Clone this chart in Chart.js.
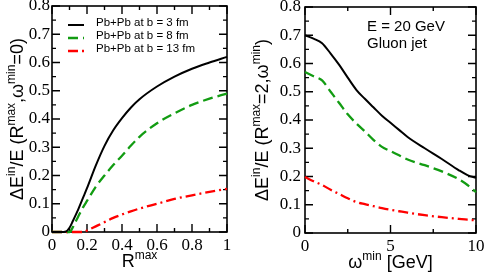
<!DOCTYPE html>
<html>
<head>
<meta charset="utf-8">
<script src="https://cdn.jsdelivr.net/npm/chart.js@4.4.0/dist/chart.umd.min.js"></script>
<style>
  html, body { margin: 0; padding: 0; background: #fff; }
  .wrap { display: flex; width: 485px; height: 277px; }
  canvas { display: block; }
</style>
</head>
<body>
<div class="wrap">
  <canvas id="leftChart" width="243" height="277"></canvas>
  <canvas id="rightChart" width="242" height="277"></canvas>
</div>
<script>
// left panel: energy loss fraction vs R^max (omega^min = 0)
const rmax = [0, 0.05, 0.08, 0.1, 0.12, 0.15, 0.18, 0.2, 0.25, 0.3, 0.35, 0.4, 0.45, 0.5, 0.6, 0.7, 0.8, 0.9, 1.0];
const lossB3 = [0, 0, 0.002, 0.015, 0.04, 0.08, 0.125, 0.155, 0.235, 0.305, 0.36, 0.403, 0.44, 0.47, 0.515, 0.55, 0.578, 0.6, 0.62];
const lossB8 = [0, 0, 0, 0, 0.018, 0.055, 0.09, 0.11, 0.16, 0.2, 0.237, 0.27, 0.305, 0.337, 0.385, 0.42, 0.45, 0.472, 0.49];
const lossB13 = [0, 0, 0, 0, 0, 0, 0, 0.005, 0.02, 0.035, 0.05, 0.062, 0.073, 0.083, 0.1, 0.117, 0.13, 0.142, 0.153];

// right panel: energy loss fraction vs omega^min (R^max = 2), E = 20 GeV gluon jet
const omegaMin = [0, 0.5, 1, 1.5, 2, 2.5, 3, 3.5, 4, 4.5, 5, 5.5, 6, 7, 8, 9, 9.5, 10];
const gluonB3 = [0.70, 0.688, 0.672, 0.635, 0.595, 0.55, 0.507, 0.475, 0.445, 0.415, 0.39, 0.365, 0.34, 0.3, 0.262, 0.222, 0.205, 0.195];
const gluonB8 = [0.57, 0.555, 0.54, 0.5, 0.46, 0.42, 0.388, 0.36, 0.33, 0.305, 0.29, 0.275, 0.26, 0.24, 0.218, 0.19, 0.17, 0.145];
const gluonB13 = [0.198, 0.183, 0.17, 0.153, 0.138, 0.123, 0.11, 0.102, 0.095, 0.088, 0.082, 0.077, 0.072, 0.063, 0.056, 0.05, 0.047, 0.045];

const seriesLabels = ["Pb+Pb at b = 3 fm", "Pb+Pb at b = 8 fm", "Pb+Pb at b = 13 fm"];

const SANS = "'Liberation Sans', Arial, sans-serif";
const SERIF = "'Liberation Serif', 'Times New Roman', serif";

const styles = [
  { color: "#000000", width: 2, dash: [] },
  { color: "#129c12", width: 2.3, dash: [10, 5] },
  { color: "#ff0000", width: 2.3, dash: [10, 4, 2, 4] },
];

// text with superscripts, centred on x
function drawRich(ctx, parts, x, y) {
  let w = 0;
  parts.forEach(([t, sup]) => {
    ctx.font = (sup ? "12px " : "18px ") + SANS;
    w += ctx.measureText(t).width;
  });
  let cx = x - w / 2;
  ctx.textAlign = "left";
  ctx.textBaseline = "alphabetic";
  parts.forEach(([t, sup]) => {
    ctx.font = (sup ? "12px " : "18px ") + SANS;
    ctx.fillText(t, cx, sup ? y - 8 : y);
    cx += ctx.measureText(t).width;
  });
}

const panelPlugin = {
  id: "panel",
  beforeDatasetsDraw(chart, args, opts) {
    const { ctx, chartArea: a, scales } = chart;
    ctx.save();
    ctx.strokeStyle = "#000";
    ctx.lineWidth = 1.6;
    ctx.strokeRect(a.left, a.top, a.right - a.left, a.bottom - a.top);
    ctx.lineWidth = 1.4;
    ctx.beginPath();
    const xs = scales.x, ys = scales.y;
    for (let v = xs.min; v <= xs.max + 1e-9; v += opts.xMinor) {
      const px = xs.getPixelForValue(v);
      const major = Math.abs(v / opts.xMajor - Math.round(v / opts.xMajor)) < 1e-6;
      const len = major ? 8 : 4;
      ctx.moveTo(px, a.bottom); ctx.lineTo(px, a.bottom - len);
      ctx.moveTo(px, a.top); ctx.lineTo(px, a.top + len);
    }
    for (let v = ys.min; v <= ys.max + 1e-9; v += opts.yMinor) {
      const py = ys.getPixelForValue(v);
      const major = Math.abs(v / opts.yMajor - Math.round(v / opts.yMajor)) < 1e-6;
      const len = major ? 8 : 4;
      ctx.moveTo(a.left, py); ctx.lineTo(a.left + len, py);
      ctx.moveTo(a.right, py); ctx.lineTo(a.right - len, py);
    }
    ctx.stroke();
    ctx.restore();
  },
  afterDraw(chart, args, opts) {
    const { ctx, chartArea: a } = chart;
    ctx.save();
    ctx.fillStyle = "#000";
    // axis titles
    drawRich(ctx, opts.xTitle, (a.left + a.right) / 2, opts.xTitleY);
    ctx.save();
    ctx.translate(opts.yTitleX, (a.top + a.bottom) / 2);
    ctx.rotate(-Math.PI / 2);
    drawRich(ctx, opts.yTitle, 0, 0);
    ctx.restore();

    if (opts.legend) {
      const L = opts.legend;
      ctx.font = "11.5px " + SANS;
      ctx.textBaseline = "middle";
      ctx.textAlign = "left";
      chart.data.datasets.forEach((ds, i) => {
        const y = L.y + i * L.dy;
        ctx.save();
        ctx.strokeStyle = ds.borderColor;
        ctx.lineWidth = ds.borderWidth;
        ctx.setLineDash(ds.borderDash || []);
        ctx.beginPath();
        ctx.moveTo(L.x, y);
        ctx.lineTo(L.x + L.len, y);
        ctx.stroke();
        ctx.restore();
        ctx.fillText(ds.label, L.textX, y - 2);
      });
    }
    if (opts.notes) {
      ctx.font = "15px " + SANS;
      ctx.textBaseline = "middle";
      ctx.textAlign = "left";
      opts.notes.lines.forEach((t, i) => ctx.fillText(t, opts.notes.x, opts.notes.y + i * opts.notes.dy));
    }
    ctx.restore();
  },
};

function fmtTick(v) {
  if (Math.abs(v - Math.round(v)) < 1e-9) return String(Math.round(v));
  return v.toFixed(1);
}

function makePanel(id, cfg) {
  return new Chart(document.getElementById(id), {
    type: "line",
    data: {
      datasets: cfg.values.map((vals, i) => ({
        label: seriesLabels[i],
        data: cfg.xs.map((x, j) => ({ x: x, y: vals[j] })),
        borderColor: styles[i].color,
        borderWidth: styles[i].width,
        borderDash: styles[i].dash,
        pointRadius: 0,
        fill: false,
        cubicInterpolationMode: "monotone",
        clip: false,
      })),
    },
    options: {
      responsive: false,
      animation: false,
      events: [],
      layout: { padding: cfg.padding },
      plugins: {
        legend: { display: false },
        tooltip: { enabled: false },
        panel: cfg.panel,
      },
      scales: {
        x: {
          type: "linear",
          min: cfg.xMin,
          max: cfg.xMax,
          grid: { display: false, drawTicks: false },
          border: { display: false },
          ticks: {
            stepSize: cfg.xStep,
            autoSkip: false,
            maxRotation: 0,
            padding: 3,
            color: "#000",
            font: { family: SERIF, size: 17 },
            callback: fmtTick,
          },
          afterFit(s) { s.height = cfg.xAxisHeight; s.paddingLeft = 0; s.paddingRight = 0; },
        },
        y: {
          min: 0,
          max: 0.8,
          grid: { display: false, drawTicks: false },
          border: { display: false },
          ticks: {
            stepSize: 0.1,
            autoSkip: false,
            padding: cfg.yTickPad,
            color: "#000",
            font: { family: SERIF, size: 17 },
            callback: fmtTick,
          },
          afterFit(s) { s.width = cfg.yAxisWidth; s.paddingTop = 0; s.paddingBottom = 0; },
        },
      },
    },
    plugins: [panelPlugin],
  });
}

makePanel("leftChart", {
  xs: rmax,
  values: [lossB3, lossB8, lossB13],
  xMin: 0, xMax: 1, xStep: 0.2,
  padding: { top: 6, right: 16, left: 0, bottom: 0 },
  xAxisHeight: 45,
  yAxisWidth: 52,
  yTickPad: 2,
  panel: {
    xMinor: 0.1, xMajor: 0.2, yMinor: 0.05, yMajor: 0.1,
    xTitle: [["R"], ["max", true]],
    xTitleY: 267,
    yTitle: [["\u0394E"], ["in", true], ["/E (R"], ["max", true], [",\u03c9"], ["min", true], ["=0)"]],
    yTitleX: 23,
    legend: { x: 68, y: 25, dy: 13, len: 16, textX: 96 },
  },
});

makePanel("rightChart", {
  xs: omegaMin,
  values: [gluonB3, gluonB8, gluonB13],
  xMin: 0, xMax: 10, xStep: 5,
  padding: { top: 7, right: 9, left: 0, bottom: 0 },
  xAxisHeight: 44,
  yAxisWidth: 62,
  yTickPad: 4,
  panel: {
    xMinor: 2.5, xMajor: 5, yMinor: 0.05, yMajor: 0.1,
    xTitle: [["\u03c9"], ["min", true], [" [GeV]"]],
    xTitleY: 268,
    yTitle: [["\u0394E"], ["in", true], ["/E (R"], ["max", true], ["=2,\u03c9"], ["min", true], [")"]],
    yTitleX: 25,
    notes: { x: 124, y: 27, dy: 17, lines: ["E = 20 GeV", "Gluon jet"] },
  },
});
</script>
</body>
</html>
